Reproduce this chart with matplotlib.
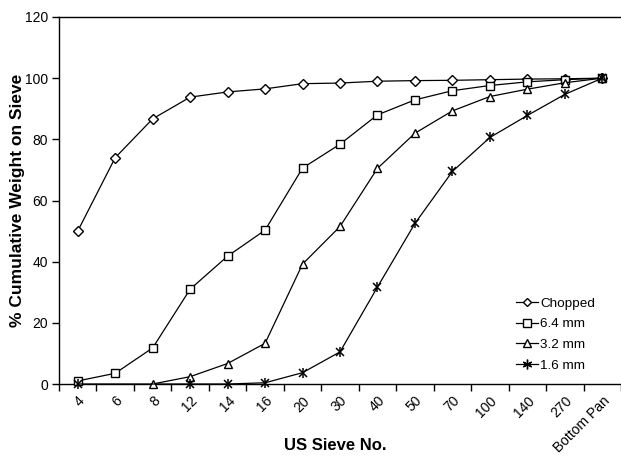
import numpy as np
import matplotlib
matplotlib.use("Agg")
import matplotlib.pyplot as plt
from matplotlib.lines import Line2D

plt.rcParams['font.family'] = ['Liberation Sans', 'DejaVu Sans']

categories = ["4", "6", "8", "12", "14", "16", "20", "30", "40", "50", "70", "100", "140", "270", "Bottom Pan"]
chopped = [50, 74, 86.7, 93.8, 95.5, 96.5, 98.2, 98.4, 99.0, 99.2, 99.3, 99.5, 99.7, 99.8, 100]
mm64 = [1.0, 3.5, 11.8, 31.0, 41.8, 50.3, 70.6, 78.4, 88.0, 92.9, 95.9, 97.6, 98.8, 99.5, 100]
mm32 = [np.nan, np.nan, 0.0, 2.4, 6.7, 13.3, 39.2, 51.5, 70.5, 82.0, 89.3, 94.0, 96.4, 98.5, 100]
mm16 = [0.0, np.nan, np.nan, 0.0, 0.0, 0.4, 3.7, 10.5, 31.7, 52.5, 69.5, 80.6, 87.8, 94.7, 100]
series_names = ["Chopped", "6.4 mm", "3.2 mm", "1.6 mm"]
yticks = [0, 20, 40, 60, 80, 100, 120]

fig = plt.figure(figsize=(6.21, 4.59), dpi=100)
W, H = 621, 459
ax = fig.add_axes([59 / W, (H - 384) / H, (W - 59) / W, (384 - 17) / H])

x = np.arange(len(categories))
styles = [
    dict(marker='D', markersize=4.8),
    dict(marker='s', markersize=6),
    dict(marker='^', markersize=6.3),
    dict(marker='x', markersize=6, markeredgewidth=1.1),
]
for vals, name, st in zip([chopped, mm64, mm32, mm16], series_names, styles):
    v = np.array(vals, dtype=float)
    m = ~np.isnan(v)
    ax.plot(x[m], v[m], color='black', linewidth=0.9, markerfacecolor='white',
            markeredgecolor='black', label=name, clip_on=False, zorder=3, **st)

v = np.array(mm16, dtype=float)
m = ~np.isnan(v)
ax.plot(x[m], v[m], linestyle='none', marker='|', markersize=7, markeredgewidth=1.1,
        color='black', clip_on=False, zorder=4)

ax.set_xlim(-0.5, -0.5 + 562 / 37.7)
ax.set_ylim(0, 120)
ax.set_yticks(yticks)
ax.set_yticklabels([str(t) for t in yticks], fontsize=10)
ax.set_xticks(x)
ax.set_xticklabels(categories, rotation=45, ha='right', va='top', rotation_mode='anchor', fontsize=10)
ax.tick_params(axis='x', which='major', length=0, pad=7)
ax.set_xticks(np.arange(-0.5, len(categories), 1.0), minor=True)
ax.tick_params(axis='x', which='minor', length=5, width=1, direction='out')
ax.tick_params(axis='y', length=5, width=1, direction='out', pad=3)

ax.spines['right'].set_visible(False)
for s in ['left', 'bottom', 'top']:
    ax.spines[s].set_linewidth(1.0)

ax.set_ylabel('% Cumulative Weight on Sieve', fontsize=12.5, fontweight='bold')
ax.yaxis.set_label_coords((25 - 59) / 562, 0.5)
ax.set_xlabel('US Sieve No.', fontsize=12, fontweight='bold')
ax.xaxis.set_label_coords((335 - 59) / 562, (384 - 438) / 367)

handles = [
    Line2D([], [], color='black', lw=0.9, marker='D', markersize=4.5, mfc='white', mec='black'),
    Line2D([], [], color='black', lw=0.9, marker='s', markersize=5.5, mfc='white', mec='black'),
    Line2D([], [], color='black', lw=0.9, marker='^', markersize=6, mfc='white', mec='black'),
    Line2D([], [], color='black', lw=0.9, marker=(6, 2, 0), markersize=7, mfc='white', mec='black'),
]
leg = ax.legend(handles, series_names, loc='lower right', bbox_to_anchor=(0.975, 0.0),
                frameon=False, fontsize=9.7, handlelength=1.6, handletextpad=0.15,
                labelspacing=0.62)

fig.savefig('out.png', dpi=100)
